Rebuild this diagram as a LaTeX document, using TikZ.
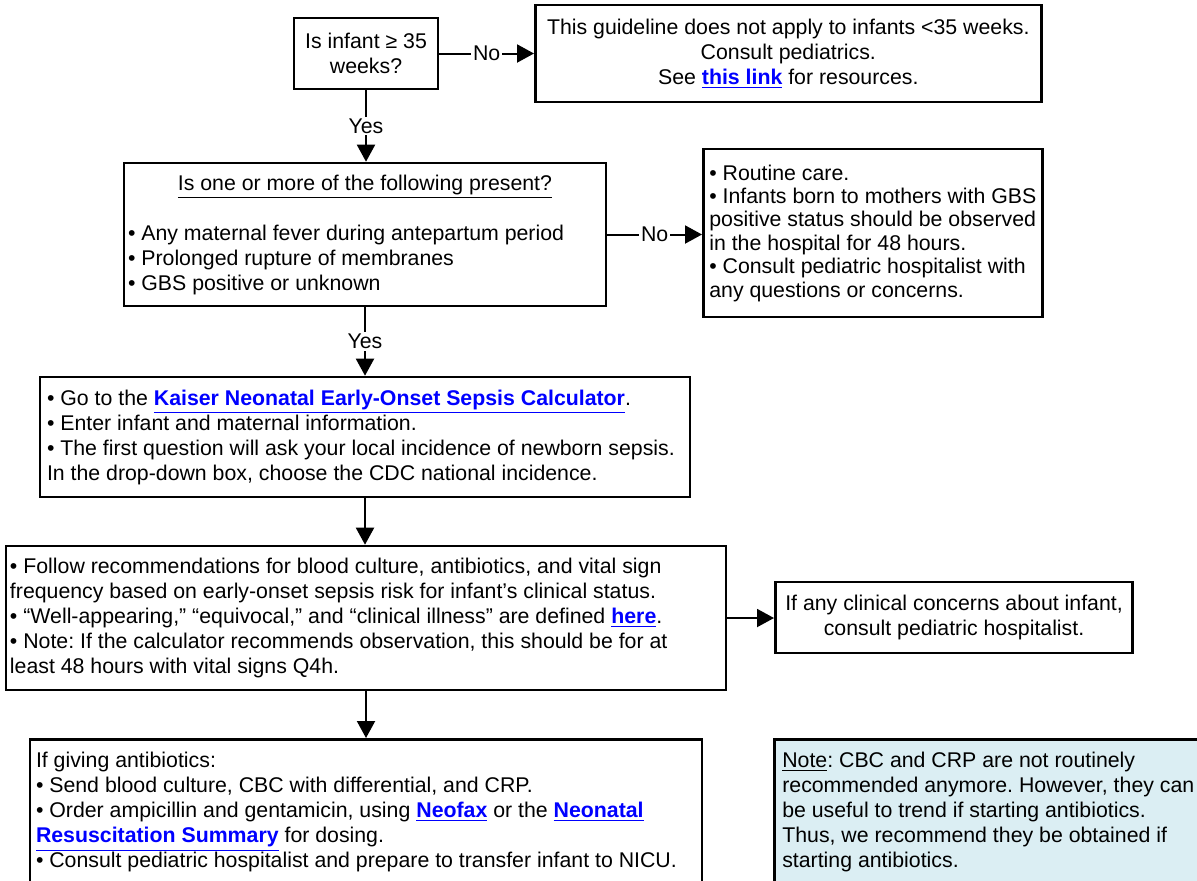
\documentclass[tikz,border=0pt]{standalone}
\usepackage{fontspec}
\setmainfont{Liberation Sans}
\usetikzlibrary{arrows.meta}
\setlength{\parindent}{0pt}
\frenchspacing
\definecolor{linkblue}{RGB}{0,0,255}
\definecolor{notefill}{RGB}{219,238,243}
\newcommand{\lnk}[1]{\textcolor{linkblue}{\textbf{\underline{#1}}}}

\begin{document}
\begin{tikzpicture}[x=0.5pt,y=-0.5pt,
  box/.style={draw,line width=1.3pt,inner sep=3pt,font=\fontsize{10.65pt}{12.5pt}\selectfont},
  arr/.style={line width=1pt,-{Triangle[length=8.5pt,width=9pt]}},
  lbl/.style={fill=white,inner sep=1pt,font=\fontsize{10.65pt}{12.5pt}\selectfont}]
\useasboundingbox (0,0) rectangle (1197,880);

\node[box,minimum width=72pt,minimum height=35.5pt,align=center] (q35) at (366,53.5) {Is infant ≥ 35\\weeks?};
\node[box,anchor=west,minimum width=253pt,minimum height=48.5pt,align=center] (lt35) at (534,53.5) {This guideline does not apply to infants <35 weeks.\\Consult pediatrics.\\See \lnk{this link} for resources.};

\node[box,inner xsep=2pt,text width=237pt,minimum height=71.5pt,align=flush left] (risk) at (365,234.5) {\hfill\underline{Is one or more of the following present?}\hfill\null\\[12.5pt]
• Any maternal fever during antepartum period\\
• Prolonged rupture of membranes\\
• GBS positive or unknown};
\node[box,anchor=west,minimum height=84pt,align=left,font=\fontsize{10.65pt}{11.7pt}\selectfont] (routine) at (702,233) {• Routine care.\\
• Infants born to mothers with GBS\\
positive status should be observed\\
in the hospital for 48 hours.\\
• Consult pediatric hospitalist with\\
any questions or concerns.};

\node[box,inner xsep=3.5pt,text width=318pt,minimum height=60pt,align=flush left] (calc) at (365,437) {• Go to the \lnk{Kaiser Neonatal Early-Onset Sepsis Calculator}.\\
• Enter infant and maternal information.\\
• The first question will ask your local incidence of newborn sepsis.\\
In the drop-down box, choose the CDC national incidence.};

\node[box,inner xsep=2pt,text width=356pt,minimum height=72pt,align=flush left] (follow) at (366,618) {• Follow recommendations for blood culture, antibiotics, and vital sign\\
frequency based on early-onset sepsis risk for infant’s clinical status.\\
• “Well-appearing,” “equivocal,” and “clinical illness” are defined \lnk{here}.\\
• Note: If the calculator recommends observation, this should be for at\\
least 48 hours with vital signs Q4h.};
\node[box,anchor=west,inner xsep=5pt,minimum height=35.5pt,align=center] (concern) at (774,617.5) {If any clinical concerns about infant,\\consult pediatric hospitalist.};

\node[box,anchor=north,inner ysep=6.5pt,text width=330pt,align=flush left] (abx) at (366,738) {If giving antibiotics:\\
• Send blood culture, CBC with differential, and CRP.\\
• Order ampicillin and gentamicin, using \lnk{Neofax} or the \lnk{Neonatal}\\
\lnk{Resuscitation Summary} for dosing.\\
• Consult pediatric hospitalist and prepare to transfer infant to NICU.\\[30pt]\null};
\node[box,anchor=north west,fill=notefill,inner xsep=4pt,inner ysep=6.5pt,text width=215pt,align=flush left] (note) at (773,738) {\underline{Note}: CBC and CRP are not routinely\\
recommended anymore. However, they can\\
be useful to trend if starting antibiotics.\\
Thus, we recommend they be obtained if\\
starting antibiotics.\\[30pt]\null};

\draw[arr] (q35.east) -- node[lbl] {No} (lt35.west);
\draw[arr] (q35.south) -- node[lbl] {Yes} (q35.south |- risk.north);
\draw[arr] (risk.east) -- node[lbl] {No} (risk.east -| routine.west);
\draw[arr] (risk.south) -- node[lbl] {Yes} (risk.south |- calc.north);
\draw[arr] (calc.south) -- (calc.south |- follow.north);
\draw[arr] (follow.east) -- (follow.east -| concern.west);
\draw[arr] (follow.south) -- (follow.south |- abx.north);
\end{tikzpicture}
\end{document}
